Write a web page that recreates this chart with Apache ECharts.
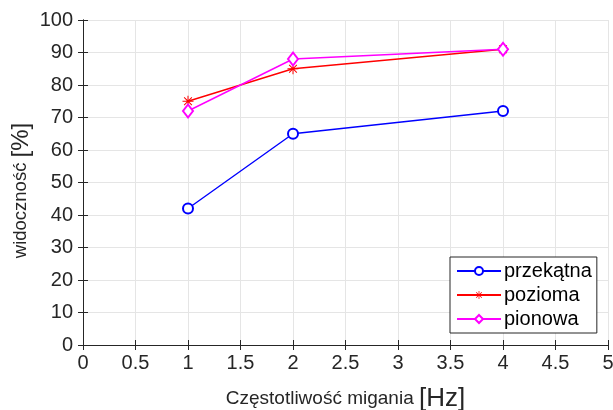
<!DOCTYPE html>
<html><head><meta charset="utf-8">
<script src="https://cdn.jsdelivr.net/npm/echarts@6/dist/echarts.min.js"></script>
<style>html,body{margin:0;padding:0;background:#fff}#c{width:613px;height:410px}</style>
</head><body><div id="c"></div>
<script>
const xValues = [1, 2, 4];
const przekatna = [42, 65, 72];
const pozioma = [75, 85, 91];
const pionowa = [72, 88, 91];
const seriesNames = ['przekątna', 'pozioma', 'pionowa'];
const xTicks = [0, 0.5, 1, 1.5, 2, 2.5, 3, 3.5, 4, 4.5, 5];
const yTicks = [0, 10, 20, 30, 40, 50, 60, 70, 80, 90, 100];

const asterisk = 'path://M-0.09,-1 L0.09,-1 L0.09,1 L-0.09,1 Z M-1,-0.09 L1,-0.09 L1,0.09 L-1,0.09 Z M-0.64,-0.77 L0.77,0.64 L0.64,0.77 L-0.77,-0.64 Z M0.64,-0.77 L0.77,-0.64 L-0.64,0.77 L-0.77,0.64 Z';
const font = '"Liberation Sans", Arial, Helvetica, sans-serif';
const axisCol = '#262626';

const chart = echarts.init(document.getElementById('c'), null, {renderer: 'canvas'});
const mk = arr => xValues.map((x, i) => [x, arr[i]]);
const baseX = {
  type: 'value', min: 0, max: 5, interval: 0.5,
  axisLine: {show: true, lineStyle: {color: axisCol, width: 1}},
  axisTick: {show: true, inside: true, length: 5, lineStyle: {color: axisCol}},
  splitLine: {show: false}
};
const baseY = {
  type: 'value', min: 0, max: 100, interval: 10,
  axisLine: {show: true, lineStyle: {color: axisCol, width: 1}},
  axisTick: {show: true, inside: true, length: 5, lineStyle: {color: axisCol}},
  splitLine: {show: false}
};
chart.setOption({
  animation: false,
  textStyle: {fontFamily: font},
  grid: {left: 83, right: 5, top: 20, bottom: 65, containLabel: false, outerBoundsMode: 'none'},
  xAxis: [
    Object.assign({}, baseX, {
      position: 'bottom',
      splitLine: {show: true, lineStyle: {color: '#e5e5e5', width: 1}},
      axisLabel: {show: true, color: axisCol, fontSize: 20, margin: 8, fontFamily: font,
        formatter: v => String(v)},
      name: '{a|Częstotliwość migania }{b|[Hz]}',
      nameLocation: 'middle', nameGap: 41,
      nameTextStyle: {rich: {a: {fontSize: 19, color: axisCol, fontFamily: font},
        b: {fontSize: 26, color: axisCol, fontFamily: font}}}
    }),
    Object.assign({}, baseX, {position: 'top', axisLabel: {show: false}})
  ],
  yAxis: [
    Object.assign({}, baseY, {
      position: 'left',
      splitLine: {show: true, lineStyle: {color: '#e5e5e5', width: 1}},
      axisLabel: {show: true, color: axisCol, fontSize: 20, margin: 10, fontFamily: font},
      name: '{a|widoczność }{b|[%]}', nameLocation: 'middle', nameGap: 50,
      nameMoveOverlap: false,
      nameTextStyle: {padding: [0, 16, 0, 0], rich: {a: {fontSize: 18.5, color: axisCol, fontFamily: font},
        b: {fontSize: 24, color: axisCol, fontFamily: font}}}
    }),
    Object.assign({}, baseY, {position: 'right', axisLabel: {show: false}})
  ],
  legend: {
    show: true, orient: 'vertical', left: 450, top: 257,
    padding: [4, 5, 4, 6], itemGap: 4, itemWidth: 44, itemHeight: 10,
    borderColor: axisCol, borderWidth: 1, backgroundColor: '#fff',
    textStyle: {fontSize: 20, color: '#000', fontFamily: font, lineHeight: 20, padding: [0, 0, 0, -2]},
    data: seriesNames
  },
  series: [
    {name: seriesNames[0], type: 'line', data: mk(przekatna), color: '#0000ff',
      symbol: 'emptyCircle', symbolSize: 10, lineStyle: {width: 1.4},
      itemStyle: {borderWidth: 1.4}},
    {name: seriesNames[1], type: 'line', data: mk(pozioma), color: '#ff0000',
      symbol: asterisk, symbolSize: 11, lineStyle: {width: 1.4}},
    {name: seriesNames[2], type: 'line', data: mk(pionowa), color: '#ff00ff',
      symbol: 'emptyDiamond', symbolSize: [10, 13], lineStyle: {width: 1.4},
      itemStyle: {borderWidth: 1.4}}
  ]
});
</script></body></html>
